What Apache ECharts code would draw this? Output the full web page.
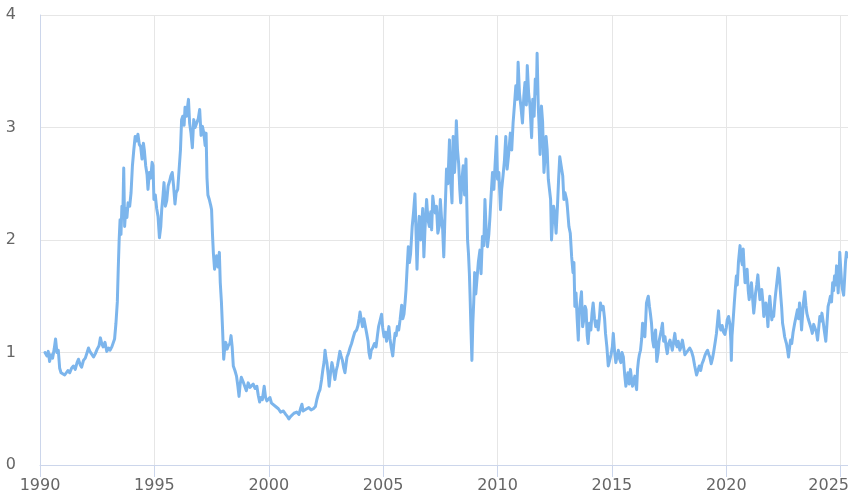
<!DOCTYPE html>
<html>
<head>
<meta charset="utf-8">
<script src="https://cdn.jsdelivr.net/npm/echarts@6/dist/echarts.min.js"></script>
<style>
  html, body { margin: 0; padding: 0; background: #fff; }
  #chart { width: 848px; height: 497px; }
</style>
</head>
<body>
<div id="chart"></div>
<script>
// Observation dates as decimal years
const years = [
  1990.22,1990.30,1990.36,1990.42,1990.48,1990.55,1990.62,1990.68,1990.74,1990.80,1990.86,1990.92,
  1991.00,1991.08,1991.14,1991.22,1991.30,1991.38,1991.46,1991.54,1991.62,1991.68,1991.76,1991.82,1991.90,1991.98,
  1992.06,1992.12,1992.18,1992.26,1992.34,1992.42,1992.50,1992.58,1992.64,1992.70,1992.76,1992.84,1992.92,
  1993.00,1993.06,1993.14,1993.20,1993.26,1993.32,1993.38,1993.42,1993.46,1993.50,1993.54,1993.58,1993.62,1993.66,1993.70,1993.75,1993.80,1993.85,1993.92,1993.98,
  1994.04,1994.10,1994.16,1994.22,1994.28,1994.34,1994.40,1994.46,1994.52,1994.56,1994.62,1994.68,1994.72,1994.78,1994.84,1994.90,1994.94,1994.98,
  1995.04,1995.10,1995.16,1995.22,1995.28,1995.32,1995.38,1995.42,1995.48,1995.54,1995.60,1995.66,1995.72,1995.78,1995.84,1995.90,1995.95,
  1996.02,1996.08,1996.14,1996.19,1996.24,1996.30,1996.34,1996.40,1996.46,1996.49,1996.54,1996.60,1996.66,1996.72,1996.78,1996.85,1996.92,1996.98,
  1997.04,1997.10,1997.16,1997.22,1997.26,1997.30,1997.34,1997.40,1997.46,1997.50,1997.54,1997.58,1997.63,1997.68,1997.72,1997.78,1997.84,1997.88,1997.93,1997.98,
  1998.03,1998.08,1998.12,1998.18,1998.23,1998.30,1998.35,1998.40,1998.45,1998.52,1998.59,1998.65,1998.70,1998.75,1998.80,1998.88,1998.95,
  1999.02,1999.10,1999.18,1999.25,1999.32,1999.40,1999.48,1999.54,1999.60,1999.66,1999.72,1999.80,1999.86,1999.92,
  2000.00,2000.05,2000.12,2000.20,2000.30,2000.42,2000.52,2000.64,2000.74,2000.82,2000.88,2000.95,
  2001.02,2001.10,2001.22,2001.32,2001.40,2001.45,2001.50,2001.58,2001.66,2001.75,2001.85,2001.95,
  2002.04,2002.10,2002.18,2002.24,2002.31,2002.36,2002.42,2002.46,2002.50,2002.54,2002.60,2002.64,2002.70,2002.76,2002.82,2002.89,2002.95,
  2003.00,2003.06,2003.11,2003.16,2003.22,2003.28,2003.33,2003.38,2003.42,2003.48,2003.55,2003.62,2003.70,2003.76,2003.84,2003.90,2003.95,2003.99,
  2004.05,2004.10,2004.16,2004.21,2004.28,2004.34,2004.38,2004.43,2004.48,2004.54,2004.62,2004.69,2004.75,2004.80,2004.86,2004.93,2004.98,
  2005.04,2005.10,2005.15,2005.20,2005.25,2005.30,2005.35,2005.42,2005.47,2005.52,2005.57,2005.62,2005.68,2005.74,2005.81,2005.86,2005.91,2005.96,
  2006.00,2006.04,2006.10,2006.15,2006.20,2006.27,2006.33,2006.39,2006.44,2006.48,2006.53,2006.58,2006.64,2006.69,2006.73,2006.78,2006.83,2006.90,2006.96,
  2007.02,2007.08,2007.12,2007.17,2007.22,2007.28,2007.33,2007.39,2007.45,2007.50,2007.55,2007.60,2007.65,2007.70,2007.77,2007.83,2007.90,2007.96,
  2008.01,2008.06,2008.12,2008.16,2008.20,2008.25,2008.30,2008.35,2008.39,2008.45,2008.50,2008.56,2008.62,2008.66,2008.69,2008.73,2008.77,2008.80,2008.84,2008.88,2008.92,2008.96,
  2009.00,2009.05,2009.10,2009.16,2009.23,2009.28,2009.34,2009.40,2009.45,2009.50,2009.56,2009.62,2009.67,2009.72,2009.78,2009.84,2009.89,2009.96,
  2010.00,2010.06,2010.13,2010.18,2010.24,2010.30,2010.36,2010.42,2010.48,2010.56,2010.62,2010.68,2010.74,2010.80,2010.86,2010.90,2010.96,
  2011.02,2011.09,2011.15,2011.20,2011.26,2011.30,2011.36,2011.42,2011.49,2011.54,2011.60,2011.65,2011.70,2011.73,2011.78,2011.82,2011.86,2011.92,2011.97,
  2012.03,2012.08,2012.12,2012.17,2012.22,2012.27,2012.32,2012.36,2012.40,2012.45,2012.50,2012.56,2012.62,2012.67,2012.72,2012.78,2012.85,2012.90,2012.95,
  2013.02,2013.05,2013.12,2013.18,2013.24,2013.30,2013.34,2013.38,2013.43,2013.48,2013.53,2013.57,2013.62,2013.67,2013.72,2013.78,2013.83,2013.87,2013.92,2013.96,
  2014.02,2014.08,2014.13,2014.18,2014.24,2014.29,2014.35,2014.40,2014.45,2014.50,2014.56,2014.62,2014.68,2014.72,2014.78,2014.84,2014.90,2014.96,
  2015.02,2015.06,2015.12,2015.17,2015.22,2015.28,2015.34,2015.39,2015.44,2015.50,2015.56,2015.61,2015.66,2015.70,2015.76,2015.81,2015.86,2015.90,2015.95,
  2016.00,2016.04,2016.08,2016.12,2016.16,2016.20,2016.25,2016.30,2016.34,2016.40,2016.44,2016.48,2016.51,2016.56,2016.59,2016.64,2016.68,2016.73,2016.78,2016.83,2016.87,2016.91,2016.96,
  2017.02,2017.06,2017.10,2017.16,2017.21,2017.26,2017.32,2017.37,2017.42,2017.48,2017.54,2017.60,2017.64,2017.70,2017.75,2017.80,2017.85,2017.90,2017.97,
  2018.02,2018.08,2018.14,2018.19,2018.26,2018.33,2018.40,2018.48,2018.55,2018.62,2018.70,2018.76,2018.82,2018.88,2018.94,
  2019.00,2019.06,2019.12,2019.18,2019.24,2019.28,2019.34,2019.40,2019.46,2019.52,2019.57,2019.62,2019.66,2019.70,2019.76,2019.82,2019.88,2019.94,
  2020.00,2020.04,2020.10,2020.16,2020.20,2020.22,2020.25,2020.29,2020.35,2020.40,2020.44,2020.48,2020.53,2020.60,2020.65,2020.70,2020.74,2020.78,2020.82,2020.87,2020.91,2020.96,
  2021.00,2021.05,2021.10,2021.15,2021.20,2021.25,2021.28,2021.33,2021.38,2021.42,2021.47,2021.51,2021.55,2021.60,2021.64,2021.69,2021.73,2021.78,2021.82,2021.86,2021.90,2021.95,2021.99,
  2022.03,2022.07,2022.12,2022.16,2022.21,2022.28,2022.33,2022.37,2022.42,2022.46,2022.51,2022.55,2022.60,2022.63,2022.68,2022.72,2022.77,2022.81,2022.86,2022.92,2022.99,
  2023.05,2023.11,2023.16,2023.20,2023.25,2023.29,2023.33,2023.37,2023.43,2023.48,2023.52,2023.58,2023.64,2023.70,2023.76,2023.82,2023.89,2023.94,2023.99,
  2024.04,2024.09,2024.14,2024.18,2024.23,2024.28,2024.35,2024.40,2024.45,2024.50,2024.55,2024.60,2024.65,2024.69,2024.73,2024.78,2024.82,2024.86,2024.89,2024.93,2024.96,
  2025.00,2025.04,2025.08,2025.13,2025.17,2025.21,2025.25,2025.29
];

// Rate (%) at each observation date
const rates = [
  1.00,0.97,1.01,0.92,0.98,0.95,1.03,1.12,1.00,1.02,0.86,0.82,
  0.83,0.80,0.79,0.84,0.82,0.86,0.88,0.85,0.91,0.94,0.89,0.87,0.93,0.95,
  1.00,1.04,1.01,1.02,0.96,0.99,1.03,1.06,1.13,1.08,1.05,1.09,1.01,
  1.04,1.02,1.05,1.04,1.12,1.26,1.45,1.74,2.00,2.18,2.05,2.30,2.22,2.64,2.12,2.28,2.20,2.33,2.30,2.42,
  2.66,2.80,2.92,2.88,2.94,2.85,2.83,2.72,2.86,2.80,2.66,2.58,2.45,2.60,2.55,2.69,2.66,2.36,
  2.40,2.28,2.21,2.02,2.12,2.27,2.40,2.51,2.30,2.35,2.48,2.52,2.57,2.60,2.48,2.32,2.42,
  2.45,2.44,2.80,3.07,3.10,3.02,3.18,3.10,3.20,3.25,3.04,2.95,2.82,3.07,3.00,3.01,3.08,3.16,
  2.93,3.01,2.95,2.84,2.95,2.55,2.40,2.36,2.31,2.27,2.05,1.88,1.74,1.80,1.86,1.76,1.89,1.62,1.45,1.21,
  0.94,1.05,1.09,1.03,1.06,1.08,1.15,1.05,0.88,0.84,0.79,0.70,0.61,0.72,0.78,0.74,0.70,
  0.66,0.73,0.69,0.70,0.72,0.68,0.70,0.62,0.56,0.60,0.58,0.70,0.60,0.57,
  0.58,0.60,0.55,0.54,0.52,0.50,0.47,0.48,0.45,0.43,0.41,0.43,
  0.44,0.46,0.47,0.45,0.51,0.54,0.48,0.49,0.50,0.51,0.49,0.50,
  0.52,0.58,0.64,0.67,0.76,0.84,0.92,1.02,0.95,0.91,0.80,0.70,0.82,0.91,0.85,0.76,0.84,
  0.88,0.95,1.01,0.97,0.93,0.86,0.82,0.90,0.96,0.99,1.04,1.08,1.14,1.18,1.20,1.24,1.30,1.36,
  1.28,1.23,1.30,1.29,1.17,1.10,1.00,0.95,1.02,1.04,1.08,1.05,1.15,1.23,1.28,1.34,1.22,
  1.14,1.18,1.10,1.16,1.23,1.12,1.05,0.97,1.08,1.17,1.15,1.23,1.20,1.29,1.42,1.30,1.34,1.45,
  1.56,1.72,1.94,1.80,1.88,2.12,2.25,2.41,2.05,1.74,2.05,2.21,2.00,2.15,2.28,1.85,2.10,2.36,2.18,
  2.12,2.25,2.09,2.39,2.30,2.24,2.30,2.06,2.12,2.36,2.20,2.10,1.85,2.20,2.63,2.50,2.89,2.50,
  2.33,2.92,2.60,2.75,3.06,2.80,2.68,2.45,2.33,2.55,2.66,2.40,2.72,2.30,2.00,1.88,1.70,1.50,1.20,0.93,1.26,1.45,
  1.71,1.52,1.65,1.80,1.91,1.70,2.03,1.95,2.36,2.10,1.94,2.05,2.21,2.40,2.60,2.45,2.66,2.92,
  2.54,2.60,2.27,2.45,2.57,2.70,2.92,2.63,2.75,2.95,2.80,3.04,3.20,3.37,3.25,3.58,3.30,
  3.19,3.04,3.28,3.40,3.20,3.55,3.30,3.19,2.91,3.25,3.10,3.43,3.30,3.66,3.19,3.00,2.76,3.19,3.05,
  2.60,2.75,2.92,2.80,2.54,2.45,2.36,2.00,2.15,2.30,2.24,2.06,2.30,2.54,2.74,2.66,2.57,2.36,2.42,
  2.36,2.30,2.12,2.06,1.85,1.71,1.80,1.41,1.53,1.30,1.11,1.35,1.45,1.54,1.23,1.30,1.41,1.38,1.15,1.08,
  1.26,1.20,1.35,1.44,1.30,1.23,1.28,1.20,1.30,1.44,1.38,1.41,1.30,1.17,1.05,0.88,0.93,0.98,
  1.05,1.17,1.00,0.91,0.96,1.02,0.94,0.91,1.00,0.96,0.80,0.70,0.76,0.82,0.72,0.85,0.76,0.70,0.74,
  0.79,0.72,0.67,0.85,0.93,0.98,1.02,1.12,1.26,1.18,1.14,1.30,1.44,1.48,1.50,1.41,1.35,1.26,1.11,1.05,1.15,1.20,0.92,
  1.00,1.10,1.11,1.20,1.26,1.10,1.14,1.05,0.99,1.08,1.11,1.06,1.02,1.10,1.17,1.08,1.05,1.10,1.02,
  1.05,1.11,1.04,0.98,1.00,1.02,1.04,1.01,0.96,0.88,0.80,0.84,0.88,0.84,0.90,
  0.93,0.97,1.00,1.02,0.98,0.96,0.90,0.95,1.02,1.10,1.17,1.28,1.37,1.25,1.20,1.24,1.18,1.16,
  1.22,1.29,1.32,1.25,1.10,0.93,1.15,1.26,1.44,1.58,1.68,1.60,1.80,1.95,1.83,1.78,1.92,1.75,1.62,1.70,1.74,1.55,
  1.47,1.55,1.62,1.48,1.35,1.45,1.53,1.60,1.69,1.58,1.47,1.50,1.56,1.45,1.32,1.38,1.44,1.35,1.23,1.40,1.50,1.38,1.29,
  1.35,1.32,1.45,1.53,1.62,1.75,1.65,1.53,1.40,1.26,1.20,1.14,1.10,1.08,1.02,0.96,1.05,1.11,1.08,1.18,1.26,
  1.32,1.38,1.30,1.44,1.35,1.20,1.32,1.44,1.54,1.42,1.35,1.30,1.26,1.22,1.17,1.25,1.26,1.18,1.11,
  1.22,1.32,1.28,1.35,1.28,1.20,1.10,1.25,1.41,1.45,1.50,1.45,1.62,1.55,1.68,1.60,1.77,1.65,1.53,1.70,1.89,
  1.75,1.62,1.56,1.51,1.65,1.80,1.89,1.85
];

// Axis ranges and tick labels
const xRange = [1990, 2025.32];
const xTickStep = 5;
const yTicks = [0, 1, 2, 3, 4];

const seriesData = years.map((y, i) => [y, rates[i]]);

const chart = echarts.init(document.getElementById('chart'), null, { renderer: 'canvas' });

const labelFont = {
  color: '#666666',
  fontFamily: 'DejaVu Sans',
  fontSize: 16
};

// The last year label is nudged left so it stays mostly inside the canvas
function yearLabel(v) {
  if (Math.abs(v % xTickStep) > 1e-6) return '';
  const txt = String(Math.round(v));
  return v + xTickStep > xRange[1] ? '{edge|' + txt + '}' : txt;
}

chart.setOption({
  animation: false,
  backgroundColor: '#ffffff',
  grid: {
    left: 40, right: 0, top: 15, bottom: 32,
    containLabel: false,
    outerBoundsMode: 'none'
  },
  xAxis: {
    type: 'value',
    min: xRange[0],
    max: xRange[1],
    interval: xTickStep,
    axisLine: { show: true, onZero: true, lineStyle: { color: '#ccd6eb', width: 1 } },
    axisTick: { show: true, length: 12, lineStyle: { color: '#ccd6eb' } },
    splitLine: { show: true, lineStyle: { color: '#e6e6e6', width: 1 } },
    axisLabel: Object.assign({}, labelFont, {
      margin: 13,
      showMaxLabel: false,
      hideOverlap: false,
      formatter: yearLabel,
      rich: {
        edge: Object.assign({}, labelFont, { padding: [0, 24, 0, 0] })
      }
    })
  },
  yAxis: {
    type: 'value',
    min: yTicks[0],
    max: yTicks[yTicks.length - 1],
    interval: 1,
    axisLine: { show: true, lineStyle: { color: '#ccd6eb', width: 1 } },
    axisTick: { show: false },
    splitLine: { show: true, lineStyle: { color: '#e6e6e6', width: 1 } },
    axisLabel: Object.assign({}, labelFont, { margin: 24 })
  },
  series: [{
    type: 'line',
    data: seriesData,
    showSymbol: false,
    symbol: 'none',
    lineStyle: { color: '#7cb5ec', width: 3, join: 'round', cap: 'round' },
    itemStyle: { color: '#7cb5ec' }
  }]
});
</script>
</body>
</html>
